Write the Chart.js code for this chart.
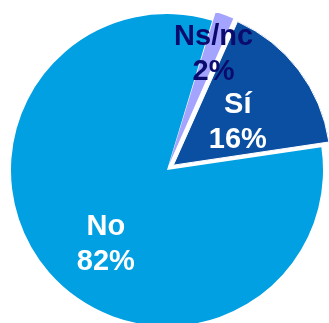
<!DOCTYPE html>
<html>
<head>
<meta charset="utf-8">
<script src="https://cdn.jsdelivr.net/npm/chart.js@4"></script>
<style>
  html, body { margin: 0; padding: 0; background: #fff; }
  #wrap { width: 329px; height: 323px; }
</style>
</head>
<body>
<div id="wrap"><canvas id="tartaChart"></canvas></div>
<script>
const categorias = ['Ns/nc', 'Sí', 'No'];
const porcentajes = [2, 16, 82];
const colores = ['#A4A4FF', '#0B4FA3', '#00A0E3'];
const coloresTexto = ['#0B0B6E', '#FFFFFF', '#FFFFFF'];
// Chart.js desplaza el sector offset/4 píxeles
const desplazamientos = [20, 32, 0];
const bordes = [0, 1, 0];

// posición de cada etiqueta: fracción del radio y giro extra (grados)
const posEtiquetas = [
    { r: 0.8, giro: 1.5 },
    { r: 0.545, giro: 3.6 },
    { r: 0.62, giro: -10 }
];

const etiquetasTarta = {
    id: 'etiquetasTarta',
    afterDatasetsDraw(chart) {
        const ctx = chart.ctx;
        const arcos = chart.getDatasetMeta(0).data;
        ctx.save();
        ctx.font = 'bold 29px "Liberation Sans", Arial, sans-serif';
        ctx.textAlign = 'center';
        ctx.textBaseline = 'middle';
        arcos.forEach((arco, i) => {
            const p = arco.getProps(['x', 'y', 'startAngle', 'endAngle', 'outerRadius'], true);
            const ang = (p.startAngle + p.endAngle) / 2 + posEtiquetas[i].giro * Math.PI / 180;
            const dist = p.outerRadius * posEtiquetas[i].r;
            const cx = p.x + Math.cos(ang) * dist;
            const cy = p.y + Math.sin(ang) * dist;
            ctx.fillStyle = coloresTexto[i];
            ctx.fillText(categorias[i], cx, cy - 17.5);
            ctx.fillText(porcentajes[i] + '%', cx, cy + 17.5);
        });
        ctx.restore();
    }
};

new Chart(document.getElementById('tartaChart'), {
    type: 'pie',
    data: {
        labels: categorias,
        datasets: [{
            data: porcentajes,
            backgroundColor: colores,
            borderColor: '#FFFFFF',
            borderWidth: bordes,
            offset: desplazamientos
        }]
    },
    options: {
        responsive: true,
        maintainAspectRatio: false,
        animation: false,
        rotation: 16.8,
        radius: 156,
        layout: { padding: { left: 5, right: 0, top: 17, bottom: 0 } },
        plugins: {
            legend: { display: false },
            tooltip: { enabled: false }
        }
    },
    plugins: [etiquetasTarta]
});
</script>
</body>
</html>
